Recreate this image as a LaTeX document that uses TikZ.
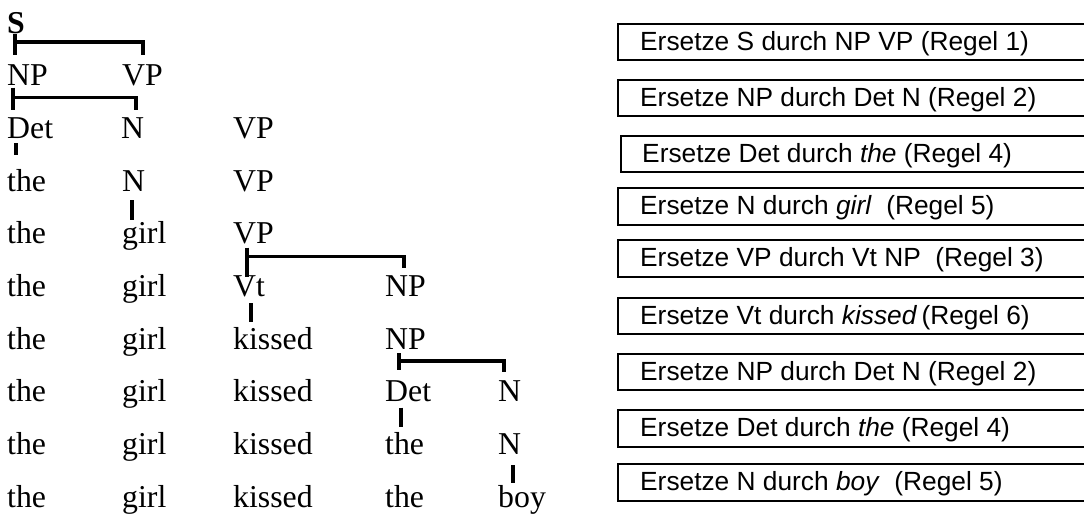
\documentclass[tikz,border=0pt]{standalone}
\usepackage{fontspec}
\setmainfont{Liberation Serif}
\newfontfamily\arialfam{Liberation Sans}
\newcommand{\treefont}{\fontsize{31.8}{31.8}\selectfont}
\newcommand{\rulefont}{\arialfam\fontsize{26.3}{26.3}\selectfont}
\begin{document}
\begin{tikzpicture}[x=1pt,y=-1pt,
  tw/.style={font=\treefont, inner sep=0pt, anchor=base west},
  br/.style={line width=3.2pt},
  boxl/.style={line width=1.4pt},
  rl/.style={font=\rulefont, inner sep=0pt, anchor=base west}]
\useasboundingbox (0,0) rectangle (1084,514);
% rows of the derivation
\node[tw] (s) at (7,33) {\textbf{S}};
\node[tw] (np1) at (7,85.7) {NP};
\node[tw] (vp1) at (122,85.7) {VP};
\node[tw] (det2) at (7,138.3) {Det};
\node[tw] (n2) at (121,138.3) {N};
\node[tw] (vp2) at (233,138.3) {VP};
\node[tw] (the3) at (7,191) {the};
\node[tw] (n3) at (122,191) {N};
\node[tw] (vp3) at (233,191) {VP};
\node[tw] (the4) at (7,243.7) {the};
\node[tw] (girl4) at (122,243.7) {girl};
\node[tw] (vp4) at (233,243.7) {VP};
\node[tw] (the5) at (7,296.3) {the};
\node[tw] (girl5) at (122,296.3) {girl};
\node[tw] (vt5) at (233,296.3) {Vt};
\node[tw] (np5) at (385,296.3) {NP};
\node[tw] (the6) at (7,349) {the};
\node[tw] (girl6) at (122,349) {girl};
\node[tw] (kissed6) at (233,349) {kissed};
\node[tw] (np6) at (385,349) {NP};
\node[tw] (the7) at (7,401.7) {the};
\node[tw] (girl7) at (122,401.7) {girl};
\node[tw] (kissed7) at (233,401.7) {kissed};
\node[tw] (det7) at (385,401.7) {Det};
\node[tw] (n7) at (498,401.7) {N};
\node[tw] (the8) at (7,454.3) {the};
\node[tw] (girl8) at (122,454.3) {girl};
\node[tw] (kissed8) at (233,454.3) {kissed};
\node[tw] (the8b) at (385,454.3) {the};
\node[tw] (n8) at (498,454.3) {N};
\node[tw] (the9) at (7,507) {the};
\node[tw] (girl9) at (122,507) {girl};
\node[tw] (kissed9) at (233,507) {kissed};
\node[tw] (the9b) at (385,507) {the};
\node[tw] (boy9) at (498,507) {boy};
% connectors
\draw[br] ([shift={(8,1)}]s.base west) -- ([shift={(8,-31)}]np1.base west);
\draw[br] ([shift={(8,9)}]s.base west) -| ([shift={(21,-31)}]vp1.base west);
\draw[br] ([shift={(6,2)}]np1.base west) -- ([shift={(6,-28)}]det2.base west);
\draw[br] ([shift={(6,12)}]np1.base west) -| ([shift={(15,-28)}]n2.base west);
\draw[br] ([shift={(9,5)}]det2.base west) -- ([shift={(9,-36)}]the3.base west);
\draw[br] ([shift={(10,9)}]n3.base west) -- ([shift={(10,-24)}]girl4.base west);
\draw[br] ([shift={(14,4)}]vp4.base west) -- ([shift={(14,-19)}]vt5.base west);
\draw[br] ([shift={(14,13)}]vp4.base west) -| ([shift={(19,-28)}]np5.base west);
\draw[br] ([shift={(18,7)}]vt5.base west) -- ([shift={(18,-27)}]kissed6.base west);
\draw[br] ([shift={(14,4)}]np6.base west) -- ([shift={(14,-32)}]det7.base west);
\draw[br] ([shift={(14,12)}]np6.base west) -| ([shift={(6,-30)}]n7.base west);
\draw[br] ([shift={(16,6)}]det7.base west) -- ([shift={(16,-27)}]the8b.base west);
\draw[br] ([shift={(15,11)}]n8.base west) -- ([shift={(15,-24)}]boy9.base west);
% rule boxes (open on the right edge)
\draw[boxl] (1084,24) -| (618,60) -- (1084,60);
\node[rl] (r1) at (640,50) {Ersetze S durch NP VP (Regel 1)};
\draw[boxl] (1084,80) -| (618,116) -- (1084,116);
\node[rl] (r2) at (640,106) {Ersetze NP durch Det N (Regel 2)};
\draw[boxl] (1084,136) -| (621,172) -- (1084,172);
\node[rl] (r3) at (642,162) {Ersetze Det durch \textit{the} (Regel 4)};
\draw[boxl] (1084,188) -| (618,225) -- (1084,225);
\node[rl] (r4) at (640,214.5) {Ersetze N durch \textit{girl}\ \ (Regel 5)};
\draw[boxl] (1084,240) -| (618,277) -- (1084,277);
\node[rl] (r5) at (640,266.5) {Ersetze VP durch Vt NP\ \ (Regel 3)};
\draw[boxl] (1084,298) -| (618,334) -- (1084,334);
\node[rl] (r6) at (640,324) {Ersetze Vt durch \textit{kissed}\,(Regel 6)};
\draw[boxl] (1084,354) -| (618,390) -- (1084,390);
\node[rl] (r7) at (640,380) {Ersetze NP durch Det N (Regel 2)};
\draw[boxl] (1084,410) -| (618,447) -- (1084,447);
\node[rl] (r8) at (640,436.5) {Ersetze Det durch \textit{the} (Regel 4)};
\draw[boxl] (1084,464) -| (618,501) -- (1084,501);
\node[rl] (r9) at (640,490.5) {Ersetze N durch \textit{boy}\ \ (Regel 5)};
\end{tikzpicture}
\end{document}
